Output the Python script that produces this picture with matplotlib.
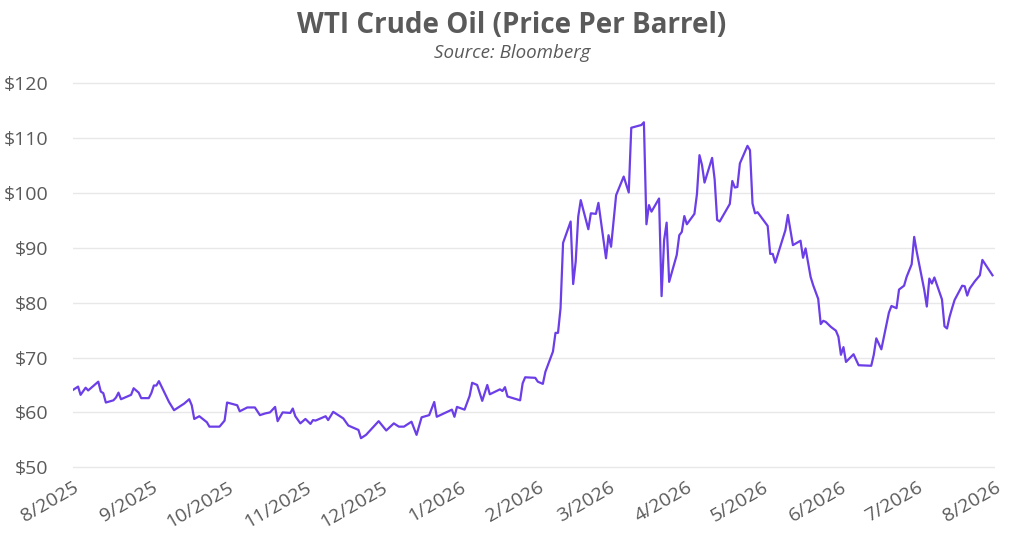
import pandas as pd
import matplotlib
matplotlib.use('Agg')
import matplotlib.pyplot as plt
import matplotlib.dates as mdates
from matplotlib.ticker import FuncFormatter

# WTI crude, price per barrel
dates = [
    '2025-08-01', '2025-08-03', '2025-08-04', '2025-08-06', '2025-08-07', '2025-08-11',
    '2025-08-12', '2025-08-13', '2025-08-14', '2025-08-17', '2025-08-18', '2025-08-19',
    '2025-08-20', '2025-08-24', '2025-08-25', '2025-08-27', '2025-08-28', '2025-08-31',
    '2025-09-01', '2025-09-02', '2025-09-03', '2025-09-04', '2025-09-06', '2025-09-08',
    '2025-09-10', '2025-09-14', '2025-09-16', '2025-09-17', '2025-09-18', '2025-09-20',
    '2025-09-23', '2025-09-24', '2025-09-28', '2025-09-30', '2025-10-01', '2025-10-05',
    '2025-10-06', '2025-10-09', '2025-10-12', '2025-10-14', '2025-10-16', '2025-10-18',
    '2025-10-20', '2025-10-21', '2025-10-23', '2025-10-26', '2025-10-27', '2025-10-28',
    '2025-10-30', '2025-11-01', '2025-11-03', '2025-11-04', '2025-11-05', '2025-11-09',
    '2025-11-10', '2025-11-12', '2025-11-16', '2025-11-18', '2025-11-22', '2025-11-23',
    '2025-11-25', '2025-11-30', '2025-12-03', '2025-12-06', '2025-12-08', '2025-12-10',
    '2025-12-13', '2025-12-15', '2025-12-17', '2025-12-20', '2025-12-22', '2025-12-23',
    '2025-12-29', '2025-12-30', '2025-12-31', '2026-01-03', '2026-01-05', '2026-01-06',
    '2026-01-08', '2026-01-10', '2026-01-12', '2026-01-13', '2026-01-17', '2026-01-18',
    '2026-01-19', '2026-01-20', '2026-01-25', '2026-01-26', '2026-01-27', '2026-01-31',
    '2026-02-01', '2026-02-03', '2026-02-04', '2026-02-07', '2026-02-08', '2026-02-09',
    '2026-02-10', '2026-02-11', '2026-02-14', '2026-02-15', '2026-02-16', '2026-02-17',
    '2026-02-18', '2026-02-21', '2026-02-22', '2026-02-24', '2026-02-25', '2026-02-28',
    '2026-03-01', '2026-03-02', '2026-03-04', '2026-03-07', '2026-03-09', '2026-03-10',
    '2026-03-14', '2026-03-15', '2026-03-16', '2026-03-17', '2026-03-18', '2026-03-21',
    '2026-03-22', '2026-03-23', '2026-03-24', '2026-03-25', '2026-03-28', '2026-03-29',
    '2026-03-30', '2026-03-31', '2026-04-01', '2026-04-04', '2026-04-05', '2026-04-06',
    '2026-04-07', '2026-04-08', '2026-04-11', '2026-04-12', '2026-04-13', '2026-04-14',
    '2026-04-18', '2026-04-19', '2026-04-20', '2026-04-21', '2026-04-22', '2026-04-25',
    '2026-04-26', '2026-04-27', '2026-04-28', '2026-04-29', '2026-05-03', '2026-05-04',
    '2026-05-05', '2026-05-06', '2026-05-10', '2026-05-11', '2026-05-13', '2026-05-16',
    '2026-05-17', '2026-05-18', '2026-05-20', '2026-05-21', '2026-05-23', '2026-05-24',
    '2026-05-25', '2026-05-26', '2026-05-28', '2026-05-30', '2026-05-31', '2026-06-01',
    '2026-06-02', '2026-06-03', '2026-06-06', '2026-06-08', '2026-06-13', '2026-06-14',
    '2026-06-15', '2026-06-17', '2026-06-20', '2026-06-21', '2026-06-23', '2026-06-24',
    '2026-06-26', '2026-06-27', '2026-06-29', '2026-06-30', '2026-07-01', '2026-07-04',
    '2026-07-05', '2026-07-06', '2026-07-07', '2026-07-08', '2026-07-11', '2026-07-12',
    '2026-07-13', '2026-07-14', '2026-07-15', '2026-07-16', '2026-07-19', '2026-07-20',
    '2026-07-21', '2026-07-22', '2026-07-24', '2026-07-26', '2026-07-27', '2026-07-31',
]
prices = [
    64.1, 64.7, 63.2, 64.5, 64.0, 65.6,
    63.8, 63.5, 61.8, 62.2, 62.7, 63.6,
    62.4, 63.2, 64.4, 63.6, 62.6, 62.6,
    63.5, 64.9, 64.9, 65.7, 63.8, 61.9,
    60.4, 61.6, 62.4, 61.3, 58.8, 59.3,
    58.2, 57.4, 57.4, 58.5, 61.8, 61.3,
    60.2, 60.9, 60.9, 59.5, 59.8, 60.0,
    61.0, 58.4, 60.0, 59.9, 60.7, 59.3,
    58.0, 58.8, 57.9, 58.6, 58.5, 59.3,
    58.6, 60.1, 58.9, 57.6, 56.8, 55.3,
    55.9, 58.4, 56.7, 58.0, 57.4, 57.4,
    58.3, 55.9, 59.1, 59.5, 61.9, 59.2,
    60.5, 59.2, 61.0, 60.5, 63.0, 65.4,
    65.0, 62.1, 65.0, 63.3, 64.2, 63.9,
    64.6, 62.9, 62.2, 65.3, 66.4, 66.3,
    65.6, 65.2, 67.4, 71.1, 74.5, 74.5,
    79.0, 90.9, 94.8, 83.4, 87.5, 95.7,
    98.7, 93.4, 96.3, 96.2, 98.2, 88.1,
    92.3, 90.2, 99.6, 103.0, 100.1, 111.9,
    112.4, 112.9, 94.3, 97.8, 96.6, 99.0,
    81.2, 91.4, 94.6, 83.8, 88.7, 92.3,
    92.9, 95.8, 94.3, 96.2, 99.8, 106.9,
    105.1, 101.9, 106.4, 102.5, 95.1, 94.8,
    98.0, 102.2, 101.0, 101.1, 105.4, 108.6,
    107.8, 98.1, 96.3, 96.5, 94.0, 88.9,
    88.9, 87.3, 93.2, 96.0, 90.5, 91.3,
    88.2, 89.9, 84.7, 83.2, 80.7, 76.1,
    76.7, 76.5, 75.6, 74.9, 73.8, 70.5,
    71.9, 69.2, 70.6, 68.6, 68.5, 70.5,
    73.5, 71.5, 78.2, 79.4, 79.0, 82.4,
    83.1, 84.7, 87.0, 92.0, 89.3, 82.3,
    79.3, 84.4, 83.5, 84.6, 80.6, 75.7,
    75.3, 77.4, 79.0, 80.5, 83.1, 83.0,
    81.3, 82.6, 83.9, 85.0, 87.8, 85.0,
]
y_ticks = [50, 60, 70, 80, 90, 100, 110, 120]

title = 'WTI Crude Oil (Price Per Barrel)'
subtitle = 'Source: Bloomberg'

df = pd.DataFrame({'date': pd.to_datetime(dates), 'price': prices})

plt.rcParams['font.family'] = ['Open Sans', 'DejaVu Sans']
text_col = '#5a5a5a'

fig = plt.figure(figsize=(10.24, 5.55), dpi=100)
ax = fig.add_axes([0.0713, 0.1532, 0.9004, 0.7016])

ax.plot(df['date'], df['price'], color='#6b3ee8', lw=1.6)

ax.set_ylim(49.5, 120.5)
ax.set_xlim(pd.Timestamp('2025-08-01'), pd.Timestamp('2026-08-01'))
ax.set_yticks(y_ticks)
ax.yaxis.set_major_formatter(FuncFormatter(lambda v, p: '${:.0f}'.format(v)))
ax.xaxis.set_major_locator(mdates.MonthLocator())
ax.xaxis.set_major_formatter(FuncFormatter(
    lambda v, p: '{}/{}'.format(mdates.num2date(v).month, mdates.num2date(v).year)))

ax.grid(axis='y', color='#e8e8e8', lw=1)
ax.set_axisbelow(True)
for s in ax.spines.values():
    s.set_visible(False)
ax.tick_params(axis='both', length=0, labelsize=14, colors=text_col)
ax.tick_params(axis='y', pad=18)
ax.tick_params(axis='x', pad=6)
for lab in ax.get_xticklabels():
    lab.set_rotation(30)
    lab.set_ha('right')
    lab.set_rotation_mode('anchor')

fig.text(0.5, 0.94, title, ha='center', va='baseline', fontsize=20,
         fontweight='bold', color=text_col)
fig.text(0.5, 0.896, subtitle, ha='center', va='baseline', fontsize=13.5,
         style='italic', color=text_col)

fig.savefig('out.png', dpi=100, facecolor='white')
